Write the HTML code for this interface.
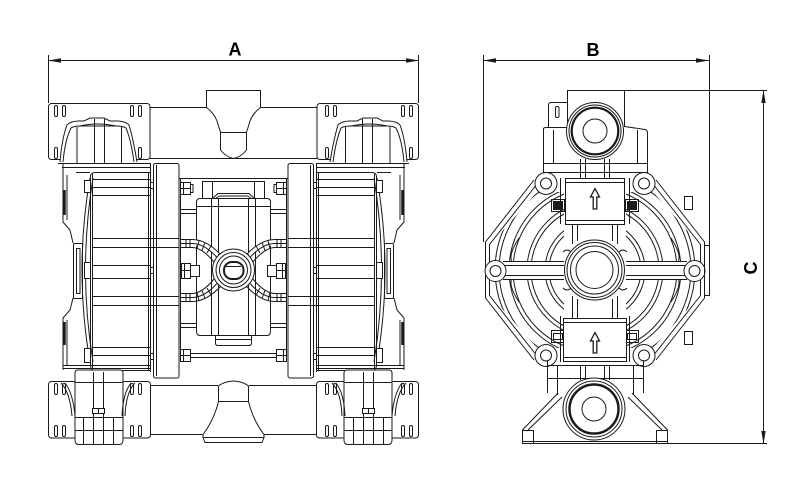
<!DOCTYPE html>
<html><head><meta charset="utf-8"><title>Pump dimensions</title>
<style>html,body{margin:0;padding:0;background:#fff}svg{display:block}</style>
</head><body>
<svg xmlns="http://www.w3.org/2000/svg" width="793" height="484" viewBox="0 0 793 484">
<defs>
<clipPath id="lc"><polygon points="537,192 564,192 564,348 537,348 489,294 489,246"/></clipPath>

<g id="lh" fill="none" stroke="#1a1a1a" stroke-width="1">
  <!-- top manifold block -->
  <rect x="48.5" y="103.5" width="101.5" height="56" rx="3"/>
  <rect x="54.5" y="105.5" width="3" height="11" rx="1.5"/>
  <rect x="62.5" y="105.5" width="3" height="11" rx="1.5"/>
  <rect x="130.5" y="105.5" width="3" height="11" rx="1.5"/>
  <rect x="138.5" y="105.5" width="3" height="11" rx="1.5"/>
  <rect x="54.5" y="147.5" width="3" height="11" rx="1.5"/>
  <rect x="62.5" y="147.5" width="3" height="11" rx="1.5"/>
  <rect x="130.5" y="147.5" width="3" height="11" rx="1.5"/>
  <rect x="138.5" y="147.5" width="3" height="11" rx="1.5"/>
  <!-- pipe + outlet -->
  <path d="M150,107.5 H206.5 M150,158.5 H233.5"/>
  <path d="M233.5,90.5 H206.5 V107.5 Q214,113 217,121 Q219,128 220.5,132 V150 Q226,157 233.5,158.5 M220.5,132.5 H233.5"/>
  <!-- top ball housing -->
  <path d="M60,162 Q62,138 67,125 Q70,121.5 78,121 L84,121 L90,118 H104 L110,121 L118,121 Q126,121.5 129,125 Q133,138 137,162" fill="#fff"/>
  <path d="M63,162 Q65,140 71,128 Q74,126 80,126 L116,126 Q123,126 126,128 Q131,140 134,162"/>
  <path d="M80,126 Q97,122 116,126"/>
  <path d="M77,127 V163 M94.5,119 V163 M104.5,119 V163 M121.5,127 V163"/>
  <path d="M58,163.5 H150.5 M62,167.5 H150.5 M76,172.5 H90"/>
  <!-- chamber outer housing -->
  <path d="M63,164 V222 L70,230 L73,243 M73,298 L70,310 L63,318 V370"/>
  <path d="M67,175 V220 M67,320 V365"/>
  <path d="M64.5,190 V215 M64.5,322 V345" stroke-width="2.5"/>
  <rect x="73.5" y="243.5" width="9" height="55" rx="1" fill="#fff"/>
  <rect x="76.5" y="248.5" width="3.5" height="45"/>
  <!-- chamber -->
  <path d="M90,178 Q74,270 90,362 M93,178 Q78,270 93,362"/>
  <path d="M90.5,176 Q91,172.5 95,172.5 H150.5 M90.5,176 V366 Q91,370 95,370.5 H150.5"/>
  <path d="M92.5,174 V368 M148.5,172 V370 M150.5,163 V372"/>
  <path d="M92,179.5 H150 M92,187.5 H150 M92,195.5 H150 M92,238.5 H179 M92,247.5 H179 M92,265.5 H150 M92,278.5 H150 M92,296.5 H179 M92,305.5 H179 M92,347.5 H150 M92,355.5 H150"/>
  <rect x="84.5" y="180.5" width="6" height="12" fill="#fff"/>
  <rect x="84.5" y="262.5" width="6" height="16" fill="#fff"/>
  <rect x="84.5" y="348.5" width="6" height="14" fill="#fff"/>
  <rect x="150.5" y="182.5" width="3" height="6"/>
  <rect x="150.5" y="267.5" width="3" height="6"/>
  <rect x="150.5" y="353.5" width="3" height="6"/>
  <!-- flange plate -->
  <rect x="153.5" y="163.5" width="25.5" height="214.5" rx="2"/>
  <path d="M156.5,165 V376"/>
  <!-- centre section -->
  <path d="M179,178.5 H233.5"/>
  <path d="M180.5,178 V362"/>
  <rect x="180.5" y="182.5" width="10" height="12" fill="#fff"/>
  <path d="M180.5,188.5 H190.5 M183.5,182.5 V194.5"/>
  <rect x="190.5" y="184.5" width="2.5" height="8"/>
  <path d="M202.5,198 V181.5 H233.5 M212.5,181.5 V198"/>
  <path d="M233.5,198.5 H200 Q196.5,198.5 196.5,202 V331 Q196.5,335.5 200,335.5 H233.5"/>
  <path d="M196.5,206.5 H233.5"/>
  <path d="M213,198 L218,193.5 H233.5 M216,198 L219.5,196 H233.5"/>
  <path d="M211.5,198 V335 M218.5,198 V335"/>
  <path d="M180.5,209.5 H196.5 M180.5,213.5 H196.5 M180.5,323.5 H196.5 M180.5,327.5 H196.5"/>
  <!-- wings -->
  <path d="M180.5,239.5 H193 Q207,240 221,255" fill="#fff"/>
  <path d="M180.5,243.5 H193 Q205,244 217.5,258"/>
  <path d="M180.5,247.5 H193 Q203,248.5 214,262"/>
  <path d="M186,239.5 V247.5 M190,239.5 V247.5 M199,240.5 L197,248.5 M205,242.5 L202,250.5 M211,246 L207,253"/>
  <path d="M180.5,301.5 H193 Q207,301 221,286"/>
  <path d="M180.5,297.5 H193 Q205,297 217.5,283"/>
  <path d="M180.5,293.5 H193 Q203,292.5 214,279"/>
  <path d="M186,293.5 V301.5 M190,293.5 V301.5 M199,300.5 L197,292.5 M205,298.5 L202,290.5 M211,295 L207,288"/>
  <rect x="181.5" y="263.5" width="9" height="15" fill="#fff"/>
  <rect x="190.5" y="265.5" width="9" height="11" fill="#fff"/>
  <path d="M181.5,270.5 H190.5 M184.5,263.5 V278.5"/>
  <rect x="180.5" y="349.5" width="10" height="12" fill="#fff"/>
  <path d="M180.5,355.5 H190.5 M183.5,349.5 V361.5"/>
  <path d="M190.5,353.5 H233.5 M190.5,357.5 H233.5"/>
  <path d="M215.5,335.5 V343 Q215.5,345.5 218,345.5 H233.5 M215.5,339.5 H233.5"/>
  <!-- bottom manifold -->
  <rect x="48.5" y="381.5" width="102" height="56.5" rx="3"/>
  <rect x="54.5" y="383.5" width="3" height="11" rx="1.5"/>
  <rect x="62.5" y="383.5" width="3" height="11" rx="1.5"/>
  <rect x="130.5" y="383.5" width="3" height="11" rx="1.5"/>
  <rect x="138.5" y="383.5" width="3" height="11" rx="1.5"/>
  <rect x="54.5" y="425.5" width="3" height="11" rx="1.5"/>
  <rect x="62.5" y="425.5" width="3" height="11" rx="1.5"/>
  <rect x="130.5" y="425.5" width="3" height="11" rx="1.5"/>
  <rect x="138.5" y="425.5" width="3" height="11" rx="1.5"/>
  <path d="M150.5,385.5 H218 M150.5,434.5 H203"/>
  <path d="M218.5,386 Q224,381.5 233.5,381 M218.5,386 V401.5 H233.5 M218.5,401.5 Q214,420 203,434.5 V437.5 H233.5 M203,437.5 L205,442.5 H233.5"/>
  <!-- lower ball housing -->
  <path d="M63,365.5 H150 M63,368.5 H150"/>
  <path d="M75,373 Q75,370 78,370 H120 Q123,370 123,373 V440 Q123,444.5 119,444.5 H79 Q75,444.5 75,440 Z" fill="#fff"/>
  <path d="M75,382.5 H123"/>
  <path d="M61,383 Q70,392 72,416 M65,383 Q73,393 75,416 M135,383 Q126,392 125,416 M131,383 Q123,393 122,416"/>
  <path d="M83.5,417 V444 M93.5,372 V444 M103.5,372 V444 M113.5,417 V444"/>
  <path d="M75,417.5 H123 M75,430.5 H123"/>
  <rect x="92.5" y="408.5" width="12" height="5" fill="#fff"/>
  <path d="M98.5,408.5 V413.5"/>
</g>

<g id="rh" fill="none" stroke="#1a1a1a" stroke-width="1">
  <g clip-path="url(#lc)">
    <circle cx="595" cy="270" r="100"/>
    <circle cx="595" cy="270" r="96"/>
    <circle cx="595" cy="270" r="86"/>
    <circle cx="595" cy="270" r="82"/>
    <circle cx="595" cy="270" r="68"/>
    <circle cx="595" cy="270" r="64"/>
    <circle cx="595" cy="270" r="50"/>
    <circle cx="595" cy="270" r="46"/>
    <path d="M519,238 Q508,255 512,262 M519,302 Q508,285 512,278"/>
  </g>
  <rect x="503" y="262" width="61" height="17" fill="#fff" stroke="none"/>
  <path d="M503,261.5 H564 M503,265.5 H564 M503,275.5 H564 M503,279.5 H564"/>
  <path d="M534,180 L485.5,242 V298 L534,360"/>
  <path d="M537,184 L489.5,244.5 V295.5 L537,356"/>
  <circle cx="546" cy="183.5" r="11" fill="#fff"/>
  <circle cx="546" cy="183.5" r="5.5"/>
  <circle cx="495.5" cy="271" r="10.5" fill="#fff"/>
  <circle cx="495.5" cy="271" r="5.5"/>
  <circle cx="546" cy="355.5" r="11" fill="#fff"/>
  <circle cx="546" cy="355.5" r="5.5"/>
  <rect x="551.5" y="199.5" width="13" height="12"/>
  <rect x="553.5" y="201.5" width="9" height="8" fill="#1a1a1a"/>
  <rect x="551.5" y="330.5" width="13" height="12"/>
  <rect x="553.5" y="333.5" width="9" height="6"/>
  <path d="M560.5,178 V224 M560.5,316 V362"/>
  <path d="M572.5,224 V244 M577.5,224 V241 M572.5,296 V318 M577.5,299 V318"/>
  <path d="M563,252 q4,-4 8,0 M563,288 q4,4 8,0"/>
</g>
</defs>

<rect width="793" height="484" fill="#fff"/>

<!-- LEFT VIEW -->
<use href="#lh"/>
<use href="#lh" transform="translate(467,0) scale(-1,1)"/>
<g fill="none" stroke="#1a1a1a" stroke-width="1">
  <circle cx="233.5" cy="270" r="21" fill="#fff"/>
  <circle cx="233.5" cy="270" r="17.5"/>
  <circle cx="233.5" cy="270" r="14"/>
  <rect x="224" y="262" width="19.5" height="17" rx="8" stroke-width="2"/>
  <path d="M226,266.5 H241"/>
</g>

<!-- RIGHT VIEW -->
<g fill="none" stroke="#1a1a1a" stroke-width="1">
  <!-- top outlet -->
  <path d="M567.5,127 V90.5 H624.5 V127"/>
  <path d="M567.5,102.5 H551 Q548.5,102.5 548.5,105 V127.5"/>
  <rect x="555.5" y="106.5" width="3.5" height="11" rx="1.5"/>
  <path d="M543.5,172.5 V129 Q543.5,127.5 546,127.5 H567.5"/>
  <path d="M624.5,126.5 L645,129.5 Q647.5,130 647.5,133 V172.5"/>
  <path d="M543.5,163.5 H647.5 M543.5,172.5 H647.5"/>
  <path d="M553.5,130 V163 M637.5,130 V163"/>
  <path d="M580.5,159 V178 M585.5,159 V178 M604.5,159 V178 M609.5,159 V178"/>
  <circle cx="595" cy="131" r="28.5" fill="#fff"/>
  <circle cx="595" cy="131" r="26"/>
  <circle cx="595" cy="131" r="23.3" stroke-width="2.2"/>
  <circle cx="595" cy="131" r="12"/>
</g>
<use href="#rh"/>
<use href="#rh" transform="translate(1190,0) scale(-1,1)"/>
<g fill="none" stroke="#1a1a1a" stroke-width="1">
  <!-- boxes and arrows -->
  <rect x="565.5" y="178.5" width="59" height="46" fill="#fff"/>
  <path d="M565.5,182.5 H624.5 M565.5,220.5 H624.5"/>
  <path d="M595,188.5 L590.5,197 H593.2 V209 H596.8 V197 H599.5 Z" stroke-width="1.3"/>
  <rect x="563.5" y="318.5" width="63" height="43" fill="#fff"/>
  <path d="M563.5,322.5 H626.5 M563.5,357.5 H626.5"/>
  <path d="M595,332.5 L590.5,341 H593.2 V353 H596.8 V341 H599.5 Z" stroke-width="1.3"/>
  <!-- centre port -->
  <circle cx="594.5" cy="270" r="30" fill="#fff"/>
  <circle cx="594.5" cy="270" r="27.5"/>
  <circle cx="594.5" cy="270" r="24"/>
  <circle cx="594.5" cy="270" r="18.5"/>
  <!-- right side details -->
  <rect x="704.5" y="245.5" width="5" height="50"/>
  <rect x="684.5" y="196.5" width="8" height="13"/>
  <rect x="684.5" y="331.5" width="8" height="13"/>
  <!-- bottom block and base -->
  <path d="M547.5,360 V393 M643.5,360 V393 M547.5,365.5 H643.5 M547.5,378.5 H643.5"/>
  <path d="M557.5,365 V395 M580.5,365 V380 M585.5,365 V380 M604.5,365 V380 M609.5,365 V380 M633.5,365 V395"/>
  <path d="M558,393 L522.5,430 V443.5 H667.5 V430 L632,393"/>
  <path d="M562,397 L527,431 M628,397 L663,431"/>
  <path d="M522.5,430.5 H533.5 V443 M667.5,430.5 H656.5 V443"/>
  <path d="M522.5,441.5 H667.5"/>
  <circle cx="594" cy="409" r="31" fill="#fff"/>
  <circle cx="594" cy="409" r="28"/>
  <circle cx="594" cy="409" r="24.5" stroke-width="2.5"/>
  <circle cx="594" cy="409" r="12"/>
</g>

<!-- DIMENSIONS -->
<g stroke="#1a1a1a" stroke-width="1" fill="none">
  <path d="M48.5,55 V103 M418.5,55 V103 M48,60.5 H419"/>
  <path d="M483.5,55 V242 M709.5,55 V245 M483,60.5 H709"/>
  <path d="M763.5,90 V444 M624,90.5 H767 M668,443.5 H767"/>
</g>
<g fill="#1a1a1a">
  <polygon points="48,60.5 61,58.3 61,62.7"/>
  <polygon points="419,60.5 406,58.3 406,62.7"/>
  <polygon points="483,60.5 496,58.3 496,62.7"/>
  <polygon points="709,60.5 696,58.3 696,62.7"/>
  <polygon points="763.5,90 761.3,103 765.7,103"/>
  <polygon points="763.5,444 761.3,431 765.7,431"/>
</g>
<g font-family="Liberation Sans, Arial, sans-serif" font-weight="bold" font-size="18" fill="#000" text-anchor="middle">
  <text x="235" y="55.5">A</text>
  <text x="593" y="56">B</text>
  <text transform="translate(757,268) rotate(-90)" x="0" y="0">C</text>
</g>
</svg>
</body></html>
